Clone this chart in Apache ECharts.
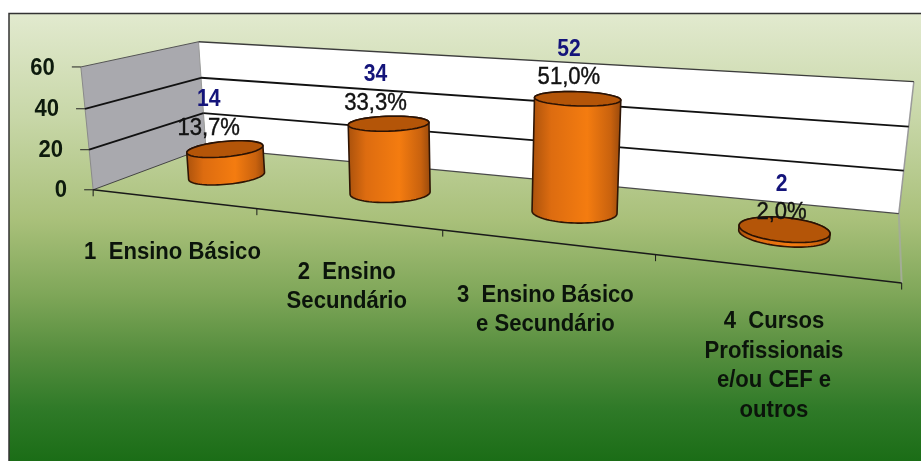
<!DOCTYPE html>
<html>
<head>
<meta charset="utf-8">
<style>html,body{margin:0;padding:0;background:#fff}#c{width:921px;height:461px}</style>
<script src="https://cdn.jsdelivr.net/npm/echarts@6/dist/echarts.min.js"></script>
</head>
<body>
<div id="c"></div>
<script>
var categories = ['1  Ensino Básico', '2  Ensino\nSecundário', '3  Ensino Básico\ne Secundário', '4  Cursos\nProfissionais\ne/ou CEF e\noutros'];
var counts = [14, 34, 52, 2];
var percents = ['13,7%', '33,3%', '51,0%', '2,0%'];
var valueTicks = [0, 20, 40, 60];

// Camera fit: [across, depth, height, screenX, screenY] for the frame of the 3D box
var cameraFit = [
  [0,0,0,94,189],[0,0,1/3,89,149],[0,0,2/3,85,109],[0,0,1,80,68],
  [0,1,0,205,150],[0,1,1/3,203,113],[0,1,2/3,202,77],[0,1,1,199,41],
  [1,1,0,899,212],[1,1,1/3,904,171],[1,1,2/3,908,127],[1,1,1,914,82],
  [1,0,0,902,284],[.25,0,0,257,208],[.5,0,0,443,230],[.75,0,0,655,255]
];

function solve(A, b) {
  var n = b.length, M = A.map(function (r, i) { return r.concat([b[i]]); });
  for (var c = 0; c < n; c++) {
    var p = c;
    for (var r = c + 1; r < n; r++) if (Math.abs(M[r][c]) > Math.abs(M[p][c])) p = r;
    var t = M[c]; M[c] = M[p]; M[p] = t;
    for (r = 0; r < n; r++) {
      if (r === c) continue;
      var f = M[r][c] / M[c][c];
      for (var k = c; k <= n; k++) M[r][k] -= f * M[c][k];
    }
  }
  return M.map(function (r, i) { return r[n] / r[i]; });
}
var P = (function () {
  var rows = [], rhs = [];
  cameraFit.forEach(function (q) {
    var s = q[0], d = q[1], h = q[2], X = q[3] / 1000, Y = q[4] / 1000;
    rows.push([s, d, h, 1, 0, 0, 0, 0, -X * s, -X * d, -X * h]); rhs.push(X);
    rows.push([0, 0, 0, 0, s, d, h, 1, -Y * s, -Y * d, -Y * h]); rhs.push(Y);
  });
  var N = [], v = [];
  for (var i = 0; i < 11; i++) {
    N.push([]); var acc = 0;
    for (var j = 0; j < 11; j++) {
      var a = 0;
      rows.forEach(function (r) { a += r[i] * r[j]; });
      N[i].push(a);
    }
    rows.forEach(function (r, k) { acc += r[i] * rhs[k]; });
    v.push(acc);
  }
  return solve(N, v);
})();
function project(s, d, h) {
  var w = P[8] * s + P[9] * d + P[10] * h + 1;
  return [1000 * (P[0] * s + P[1] * d + P[2] * h + P[3]) / w,
          1000 * (P[4] * s + P[5] * d + P[6] * h + P[7]) / w];
}
// Data -> axis scale -> pixel in grid -> fraction of grid -> perspective
function place(api, params, x, v, d) {
  var c = api.coord([x, v]), g = params.coordSys;
  return project((c[0] - g.x) / g.width, d, 1 - (c[1] - g.y) / g.height);
}

var DEPTH = 0.48, R_S = 0.054, R_D = 0.19, LABEL_DEPTH = 0.33;
var FONT = '"Liberation Sans", Arial, sans-serif';
var xMax = categories.length, yMax = valueTicks[valueTicks.length - 1];

function line(a, b, color, width) {
  return { type: 'line', shape: { x1: a[0], y1: a[1], x2: b[0], y2: b[1] }, style: { stroke: color, lineWidth: width } };
}
function poly(pts, fill, stroke, width) {
  return { type: 'polygon', shape: { points: pts }, style: { fill: fill, stroke: stroke, lineWidth: width, lineJoin: 'round' } };
}
function text(x, y, str, font, color, sx, baseline, weight) {
  return { type: 'text', x: x, y: y, scaleX: sx, style: { text: str, font: font, fill: color, stroke: weight ? color : null, lineWidth: weight || 0, textAlign: 'center', textVerticalAlign: baseline || 'middle', lineHeight: 29.6 } };
}

function renderWalls(params, api) {
  var p = function (x, v, d) { return place(api, params, x, v, d); };
  return { type: 'group', children: [
    poly([p(0, 0, 1), p(xMax, 0, 1), p(xMax, yMax, 1), p(0, yMax, 1)], '#ffffff', null, 0),
    poly([p(0, 0, 0), p(0, 0, 1), p(0, yMax, 1), p(0, yMax, 0)], '#a9a9ae', null, 0),
    line(p(0, yMax, 0), p(0, yMax, 1), '#555', 1),
    line(p(0, 0, 0), p(0, 0, 1), '#444', 1),
    line(p(0, 0, 0), p(0, yMax, 0), '#8a8a8a', 1),
    line(p(0, 0, 1), p(0, yMax, 1), '#9a9a9a', 1),
    line(p(xMax, 0, 1), p(xMax, yMax, 1), '#9a9a9a', 1.5),
    line(p(xMax, 0, 0), p(xMax, 0, 1), '#a3ad96', 2),
    line(p(0, 0, 1), p(xMax, 0, 1), '#4a4a4a', 1.2)
  ] };
}
function renderGrid(params, api) {
  var v = api.value(1), p = function (d) { return place(api, params, 0, v, d); };
  var a = p(0), b = p(1), e = place(api, params, xMax, v, 1), kids = [];
  if (v === yMax) {
    kids.push(line(b, e, '#3c3c3c', 1.3));
  } else if (v > 0) {
    kids.push(line(a, b, '#111', 1.8), line(b, e, '#111', 1.8));
  }
  kids.push(line([a[0] - 9, a[1]], a, '#222', 1));
  var lab = text(a[0] - 26, a[1] + 1, String(v), 'bold 24px ' + FONT, '#0d1a0d', 0.92);
  lab.style.textAlign = 'right';
  kids.push(lab);
  return { type: 'group', children: kids };
}
function renderAxisFront(params, api) {
  var kids = [line(place(api, params, 0, 0, 0), place(api, params, xMax, 0, 0), '#1a1a1a', 1.5)];
  for (var i = 0; i <= xMax; i++) {
    var t = place(api, params, i, 0, 0);
    kids.push(line(t, [t[0], t[1] + 6.5], '#1a1a1a', 1));
  }
  return { type: 'group', children: kids };
}
function renderCategory(params, api) {
  var a = place(api, params, api.value(0), 0, 0);
  return text(a[0], a[1] + 38.5, categories[params.dataIndex], 'bold 23.5px ' + FONT, '#0b140b', 0.94, 'top');
}
function ring(api, params, x, v, from, to) {
  var out = [], c = api.coord([x, v]), g = params.coordSys;
  var s0 = (c[0] - g.x) / g.width, h = 1 - (c[1] - g.y) / g.height;
  var mid = project(s0, DEPTH, h);
  var dx = 0.5 * (project(s0 + R_S, DEPTH, h)[0] - project(s0 - R_S, DEPTH, h)[0]) / 2 + 21.3;
  var dy = (project(s0, DEPTH - R_D, h)[1] - project(s0, DEPTH + R_D, h)[1]) / 2;
  var tilt = 0.24 * (s0 - 0.5);
  for (var i = 0; i <= 40; i++) {
    var th = from + (to - from) * i / 40;
    out.push([mid[0] + dx * Math.cos(th), mid[1] - dy * Math.sin(th) + tilt * dx * Math.cos(th)]);
  }
  return out;
}
function renderCylinder(params, api) {
  var x = api.value(0), v = api.value(1), PI = Math.PI;
  var body = ring(api, params, x, 0, PI, 2 * PI).concat(ring(api, params, x, v, 0, PI));
  var top = ring(api, params, x, v, 0, 2 * PI);
  return { type: 'group', children: [
    poly(body, { type: 'linear', x: 0, y: 0, x2: 1, y2: 0, colorStops: [
      { offset: 0, color: '#a9510c' }, { offset: 0.22, color: '#dd6c10' }, { offset: 0.62, color: '#f47c10' },
      { offset: 0.88, color: '#c9620e' }, { offset: 1, color: '#96480c' }] }, '#2e1505', 1.6),
    poly(top, '#b45508', '#2a1204', 1.6)
  ] };
}
function renderLabels(params, api) {
  var a = place(api, params, api.value(0), api.value(1), LABEL_DEPTH), i = params.dataIndex;
  return { type: 'group', children: [
    text(a[0], a[1] - 26.5, percents[i], '23px ' + FONT, '#111', 0.96, 'middle', 0.4),
    text(a[0], a[1] - 55.5, String(counts[i]), 'bold 24px ' + FONT, '#14147a', 0.88)
  ] };
}

function custom(name, data, fn, z) {
  return { type: 'custom', name: name, data: data, renderItem: fn, encode: { x: 0, y: 1 }, z: z, silent: true, animation: false, clip: false };
}
var centers = counts.map(function (c, i) { return [i + 0.5, c]; });

var chart = echarts.init(document.getElementById('c'), null, { renderer: 'canvas' });
chart.setOption({
  animation: false,
  backgroundColor: '#ffffff',
  tooltip: { show: false },
  graphic: { elements: [{
    type: 'rect', z: -10, silent: true,
    shape: { x: 9, y: 13.5, width: 930, height: 470 },
    style: {
      stroke: '#333', lineWidth: 1.5,
      fill: { type: 'linear', x: 0, y: 0, x2: 0, y2: 1, global: false, colorStops: [
        { offset: 0, color: '#e2eacf' }, { offset: 0.22, color: '#c8d7a8' }, { offset: 0.44, color: '#a9c07a' },
        { offset: 0.6, color: '#7ea658' }, { offset: 0.72, color: '#568e3e' }, { offset: 0.84, color: '#2f7a28' },
        { offset: 0.96, color: '#196c15' }, { offset: 1, color: '#196c15' }] }
    }
  }] },
  grid: { left: 94, right: 19, top: 68, bottom: 272 },
  xAxis: { type: 'value', min: 0, max: xMax, interval: 1, show: false },
  yAxis: { type: 'value', min: 0, max: yMax, interval: 20, show: false },
  series: [
    custom('walls', [[0, 0]], renderWalls, 2),
    custom('grid', valueTicks.map(function (v) { return [0, v]; }), renderGrid, 3),
    custom('front axis', [[0, 0]], renderAxisFront, 4),
    custom('categories', categories.map(function (c, i) { return [i + 0.5, 0]; }), renderCategory, 5),
    custom('cylinders', centers, renderCylinder, 6),
    custom('labels', centers, renderLabels, 7)
  ]
});
</script>
</body>
</html>
